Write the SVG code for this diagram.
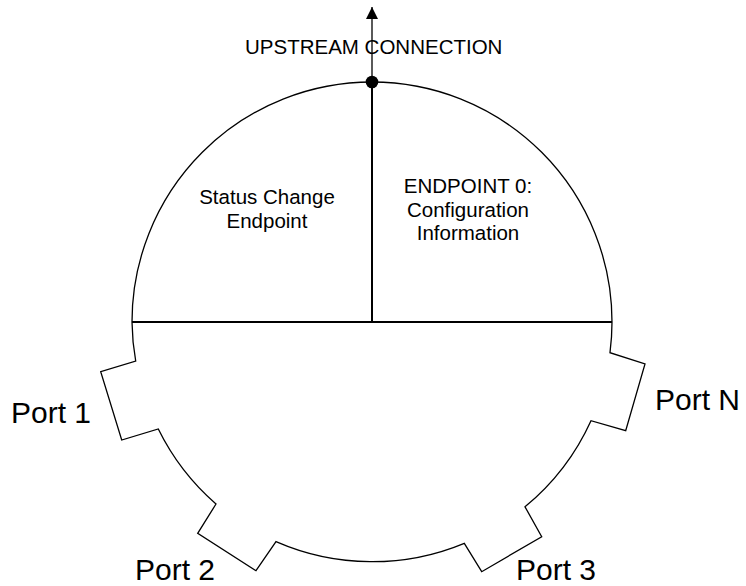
<svg xmlns="http://www.w3.org/2000/svg" width="746" height="586" viewBox="0 0 746 586">
  <defs>
    <style>
      .outline { fill: #ffffff; stroke: #000000; stroke-width: 1.3; stroke-linejoin: miter; }
      .divider { fill: none; stroke: #000000; stroke-width: 2; }
      .wire { fill: none; stroke: #000000; stroke-width: 1.3; }
      .lbl { font-family: "Liberation Sans", Arial, sans-serif; font-size: 20.5px; fill: #000000; }
      .port { font-family: "Liberation Sans", Arial, sans-serif; font-size: 30px; fill: #000000; }
    </style>
    <marker id="arrow" viewBox="0 0 12 12" refX="12" refY="6" markerWidth="12" markerHeight="12" markerUnits="userSpaceOnUse" orient="auto">
      <path d="M0,0 L12,6 L0,12 Z" fill="#000000"/>
    </marker>
  </defs>
  <rect width="746" height="586" fill="#ffffff"/>

  <g id="hub">
    <path class="outline" d="M132,322 A240,240 0 0 1 612,322 A240,240 0 0 1 610,352.7 L645,364 L625.7,430.7 L591,420.7 A240,240 0 0 1 525,506.8 L541.7,536.7 L481.7,571.7 L464.3,543.3 A240,240 0 0 1 276,541.6 L256,570.7 L197.7,533.3 L216,504 A240,240 0 0 1 158.3,429 L121.7,440 L100.7,371.7 L135.7,361 A240,240 0 0 1 132,322 Z"/>
    <line class="divider" x1="132" y1="322" x2="612" y2="322"/>
    <line class="divider" x1="372" y1="82" x2="372" y2="322"/>
  </g>

  <g id="status-change-endpoint">
    <text class="lbl" x="267" y="204" text-anchor="middle">Status Change</text>
    <text class="lbl" x="267" y="228" text-anchor="middle">Endpoint</text>
  </g>

  <g id="endpoint-0">
    <text class="lbl" x="468" y="193" text-anchor="middle">ENDPOINT 0:</text>
    <text class="lbl" x="468" y="217" text-anchor="middle">Configuration</text>
    <text class="lbl" x="468" y="240" text-anchor="middle">Information</text>
  </g>

  <g id="port-1"><text class="port" x="11" y="423">Port 1</text></g>
  <g id="port-n"><text class="port" x="655" y="410">Port N</text></g>
  <g id="port-2"><text class="port" x="135" y="580">Port 2</text></g>
  <g id="port-3"><text class="port" x="516" y="580">Port 3</text></g>

  <g id="upstream">
    <text class="lbl" x="245" y="54">UPSTREAM CONNECTION</text>
  </g>

  <g id="connectors">
    <line class="wire" x1="372" y1="82" x2="372" y2="7" marker-end="url(#arrow)"/>
    <circle cx="372" cy="82" r="6.3" fill="#000000"/>
  </g>
</svg>
